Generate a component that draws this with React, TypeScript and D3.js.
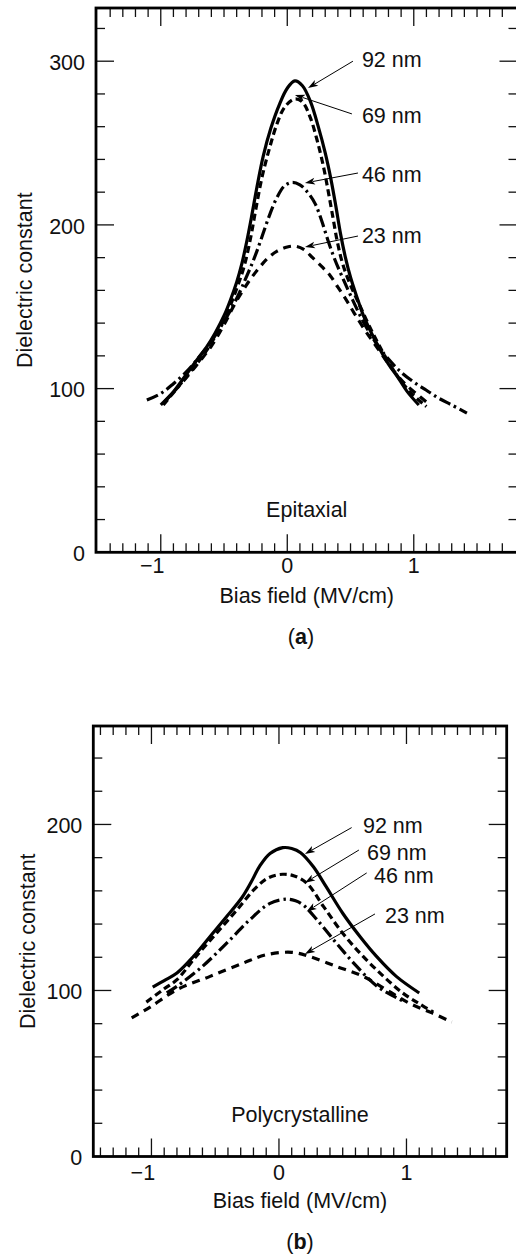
import React from 'react';
import * as d3 from 'd3';

const W = 516;
const H = 1255;
const FONT = '"Liberation Sans", Arial, Helvetica, sans-serif';
const FS = 21.5;

type Pt = [number, number];

// Film thicknesses and their line styles
const thicknesses = ['92 nm', '69 nm', '46 nm', '23 nm'];
const dashStyles = ['none', '7,4', '12,4,2.5,4', '8,6'];

// Axis ticks
const xMajorTicks = [-1, 0, 1];
const xMinorTicks = d3.range(-14, 18).map((v) => v / 10);

// (a) Epitaxial films: bias field (MV/cm) vs dielectric constant
const epi92: Pt[] = [
  [-1.0, 90], [-0.9, 98], [-0.8, 108.5], [-0.7, 119], [-0.637, 125.5], [-0.57, 134],
  [-0.5, 144.5], [-0.45, 154], [-0.4, 165], [-0.36, 176], [-0.32, 190], [-0.28, 206],
  [-0.24, 223], [-0.19, 242], [-0.13, 259], [-0.06, 274], [0.0, 283.5],
  [0.06, 288], [0.12, 285], [0.185, 275], [0.245, 260], [0.3, 244], [0.345, 228],
  [0.385, 211], [0.42, 195], [0.46, 180], [0.5, 168], [0.55, 156],
  [0.6, 145], [0.665, 134], [0.733, 124], [0.8, 115], [0.865, 108], [0.95, 98], [1.04, 90],
];
const epi69: Pt[] = [
  [-0.98, 90], [-0.8, 107], [-0.64, 123], [-0.5, 142], [-0.4, 161], [-0.34, 175],
  [-0.29, 192], [-0.25, 209], [-0.2, 229], [-0.14, 247], [-0.08, 262], [-0.02, 272],
  [0.06, 277], [0.12, 275], [0.18, 266], [0.235, 252], [0.285, 236], [0.325, 220],
  [0.36, 205], [0.395, 190], [0.435, 177], [0.49, 165], [0.56, 153], [0.65, 138],
  [0.75, 123], [0.85, 110], [0.97, 98], [1.1, 89],
];
const epi46: Pt[] = [
  [-1.11, 93], [-1.0, 97], [-0.9, 103], [-0.8, 110], [-0.7, 119], [-0.6, 129],
  [-0.5, 141], [-0.4, 155], [-0.33, 167], [-0.28, 176], [-0.24, 184], [-0.19, 195],
  [-0.14, 206], [-0.08, 217], [-0.02, 224], [0.04, 226], [0.1, 224.5], [0.16, 220],
  [0.22, 213], [0.27, 203], [0.32, 191], [0.37, 180], [0.43, 169], [0.5, 157],
  [0.6, 141], [0.7, 128], [0.8, 118], [0.9, 110], [1.0, 104], [1.1, 99], [1.2, 94],
  [1.3, 90], [1.42, 85],
];
const epi23: Pt[] = [
  [-0.97, 92], [-0.85, 102], [-0.72, 114], [-0.6, 126], [-0.5, 139], [-0.42, 151],
  [-0.35, 160], [-0.29, 167], [-0.22, 174], [-0.15, 180], [-0.08, 184], [0.0, 186.5],
  [0.06, 187], [0.13, 185], [0.2, 180], [0.28, 174], [0.34, 169], [0.4, 162],
  [0.46, 155], [0.53, 146], [0.62, 135], [0.72, 124], [0.82, 113], [0.93, 103],
  [1.05, 95], [1.13, 90],
];

// (b) Polycrystalline films
const poly92: Pt[] = [
  [-0.99, 102], [-0.9, 106], [-0.8, 110.5], [-0.67, 120.5], [-0.54, 132.5],
  [-0.41, 144.5], [-0.29, 156], [-0.22, 165], [-0.15, 175], [-0.07, 182.5],
  [0.03, 186], [0.1, 185.5], [0.17, 183], [0.27, 174.5], [0.37, 162.5],
  [0.5, 146.5], [0.635, 132.5], [0.765, 120.5], [0.92, 108.5], [1.1, 98.5],
];
const poly69: Pt[] = [
  [-1.04, 93], [-0.9, 101], [-0.8, 106.5], [-0.65, 120.5], [-0.49, 134.5],
  [-0.33, 148.5], [-0.18, 162], [-0.08, 168], [0.03, 170], [0.12, 169],
  [0.22, 164.5], [0.35, 150.5], [0.5, 134.5], [0.66, 120.5], [0.82, 108.5],
  [0.97, 98.5], [1.1, 92], [1.21, 87],
];
const poly46: Pt[] = [
  [-0.88, 98.5], [-0.8, 102.5], [-0.6, 114.5], [-0.41, 128.5], [-0.23, 142.5],
  [-0.07, 152.5], [0.06, 155], [0.13, 154], [0.19, 151.5], [0.3, 142.5],
  [0.45, 128.5], [0.61, 114.5], [0.77, 102.5], [0.95, 94.5], [0.99, 93],
];
const poly23: Pt[] = [
  [-1.155, 83.5], [-1.01, 90], [-0.8, 100.5], [-0.54, 108.5], [-0.28, 116.5],
  [-0.1, 121.5], [0.1, 123], [0.24, 120.5], [0.45, 114.5], [0.66, 108.5],
  [0.85, 100], [1.03, 92], [1.2, 86.5], [1.355, 81],
];

// Callouts in data units: [tailX, tailY, tipX, tipY] and label anchor [x, y]
const epiArrows = [
  [0.519, 300, 0.164, 283.6],
  [0.511, 267.8, 0.061, 279.4],
  [0.559, 231.7, 0.14, 225.6],
  [0.559, 193.2, 0.14, 186.5],
];
const epiLabelPos: Pt[] = [[0.59, 296.5], [0.59, 262.2], [0.59, 226.2], [0.59, 189]];
const polyArrows = [
  [0.57, 198.1, 0.204, 182.2],
  [0.627, 184.6, 0.204, 164.9],
  [0.688, 170.8, 0.217, 147.5],
  [0.753, 146.1, 0.204, 122],
];
const polyLabelPos: Pt[] = [[0.659, 194.9], [0.69, 178.6], [0.745, 164.8], [0.831, 140.7]];

interface PanelProps {
  left: number;
  right: number;
  top: number;
  bottom: number;
  xDomain: [number, number];
  yDomain: [number, number];
  yMajor: number[];
  yMinor: number[];
  series: Pt[][];
  arrows: number[][];
  labelPos: Pt[];
  kind: string;
  caption: string;
  captionX: number;
  xLabelOffset: number;
  yTitleX: number;
}

function Panel(p: PanelProps) {
  const x = d3.scaleLinear().domain(p.xDomain).range([p.left, p.right]);
  const y = d3.scaleLinear().domain(p.yDomain).range([p.bottom, p.top]);
  const line = d3
    .line<Pt>()
    .x((d) => x(d[0]))
    .y((d) => y(d[1]))
    .curve(d3.curveCatmullRom.alpha(0.5));
  const minorLen = 9;
  const majorLen = 18;
  const midX = (p.left + p.right) / 2;

  return (
    <g>
      {/* ticks on all four sides, pointing inward */}
      <g stroke="#111" strokeWidth={1.3}>
        {xMinorTicks.map((t) => {
          const len = xMajorTicks.includes(Math.round(t * 10) / 10) ? majorLen : minorLen;
          const px = x(t);
          return (
            <g key={'xt' + t}>
              <line x1={px} x2={px} y1={p.top} y2={p.top + len} />
              <line x1={px} x2={px} y1={p.bottom} y2={p.bottom - len} />
            </g>
          );
        })}
        {p.yMinor.map((t) => {
          const len = p.yMajor.includes(t) ? majorLen : minorLen;
          const py = y(t);
          return (
            <g key={'yt' + t}>
              <line x1={p.left} x2={p.left + len} y1={py} y2={py} />
              <line x1={p.right} x2={p.right - len} y1={py} y2={py} />
            </g>
          );
        })}
      </g>

      {/* frame */}
      <rect
        x={p.left}
        y={p.top}
        width={p.right - p.left}
        height={p.bottom - p.top}
        fill="none"
        stroke="#000"
        strokeWidth={2.8}
      />

      {/* curves */}
      {p.series.map((s, i) => (
        <path
          key={'s' + i}
          d={line(s) || ''}
          fill="none"
          stroke="#000"
          strokeWidth={3.2}
          strokeDasharray={dashStyles[i] === 'none' ? undefined : dashStyles[i]}
        />
      ))}

      {/* callout arrows */}
      {p.arrows.map((a, i) => {
        const x1 = x(a[0]);
        const y1 = y(a[1]);
        const x2 = x(a[2]);
        const y2 = y(a[3]);
        const len = Math.hypot(x2 - x1, y2 - y1);
        const ux = (x2 - x1) / len;
        const uy = (y2 - y1) / len;
        const nx = -uy;
        const ny = ux;
        const hl = 10;
        const hw = 3.4;
        const bx = x2 - ux * hl;
        const by = y2 - uy * hl;
        return (
          <g key={'a' + i}>
            <line x1={x1} y1={y1} x2={bx + ux * 2} y2={by + uy * 2} stroke="#000" strokeWidth={1} />
            <path
              d={`M${x2},${y2}L${bx + nx * hw},${by + ny * hw}L${bx + ux * 2.5},${by + uy * 2.5}L${bx - nx * hw},${by - ny * hw}Z`}
              fill="#000"
            />
          </g>
        );
      })}

      <g fontFamily={FONT} fontSize={FS} fill="#111">
        {thicknesses.map((t, i) => (
          <text key={'l' + i} x={x(p.labelPos[i][0])} y={y(p.labelPos[i][1])}>
            {t}
          </text>
        ))}

        {/* y tick labels */}
        {[0, ...p.yMajor].map((t) => (
          <text key={'yl' + t} x={p.left - 11} y={y(t)} dy="0.4em" textAnchor="end">
            {t}
          </text>
        ))}
        {/* x tick labels */}
        {xMajorTicks.map((t) => (
          <text
            key={'xl' + t}
            x={x(t)}
            y={p.bottom + p.xLabelOffset}
            dx={t < 0 ? '-0.4em' : '0'}
            textAnchor="middle"
          >
            {t < 0 ? '\u2212' + Math.abs(t) : t}
          </text>
        ))}

        <text x={midX} y={p.bottom - 35} textAnchor="middle">
          {p.kind}
        </text>
        <text x={midX} y={p.bottom + 51} textAnchor="middle">
          Bias field (MV/cm)
        </text>
        <text
          transform={`translate(${p.yTitleX},${(p.top + p.bottom) / 2}) rotate(-90)`}
          textAnchor="middle"
        >
          Dielectric constant
        </text>
        <text x={p.captionX} y={p.bottom + 92} textAnchor="middle">
          (<tspan fontWeight="bold">{p.caption}</tspan>)
        </text>
      </g>
    </g>
  );
}

export default function App() {
  return (
    <svg
      width={W}
      height={H}
      viewBox={`0 0 ${W} ${H}`}
      style={{ position: 'absolute', left: 0, top: 0, display: 'block', background: '#fff' }}
    >
      <rect width={W} height={H} fill="#fff" />
      <Panel
        left={96}
        right={517.5}
        top={8}
        bottom={552.3}
        xDomain={[-1.512, 1.82]}
        yDomain={[0, 332.5]}
        yMajor={[100, 200, 300]}
        yMinor={d3.range(20, 340, 20)}
        series={[epi92, epi69, epi46, epi23]}
        arrows={epiArrows}
        labelPos={epiLabelPos}
        kind="Epitaxial"
        caption="a"
        captionX={301}
        xLabelOffset={20.5}
        yTitleX={31.5}
      />
      <Panel
        left={93.3}
        right={506.7}
        top={726}
        bottom={1156.5}
        xDomain={[-1.456, 1.786]}
        yDomain={[0, 259.3]}
        yMajor={[100, 200]}
        yMinor={d3.range(20, 260, 20)}
        series={[poly92, poly69, poly46, poly23]}
        arrows={polyArrows}
        labelPos={polyLabelPos}
        kind="Polycrystalline"
        caption="b"
        captionX={300}
        xLabelOffset={23.5}
        yTitleX={35}
      />
    </svg>
  );
}
